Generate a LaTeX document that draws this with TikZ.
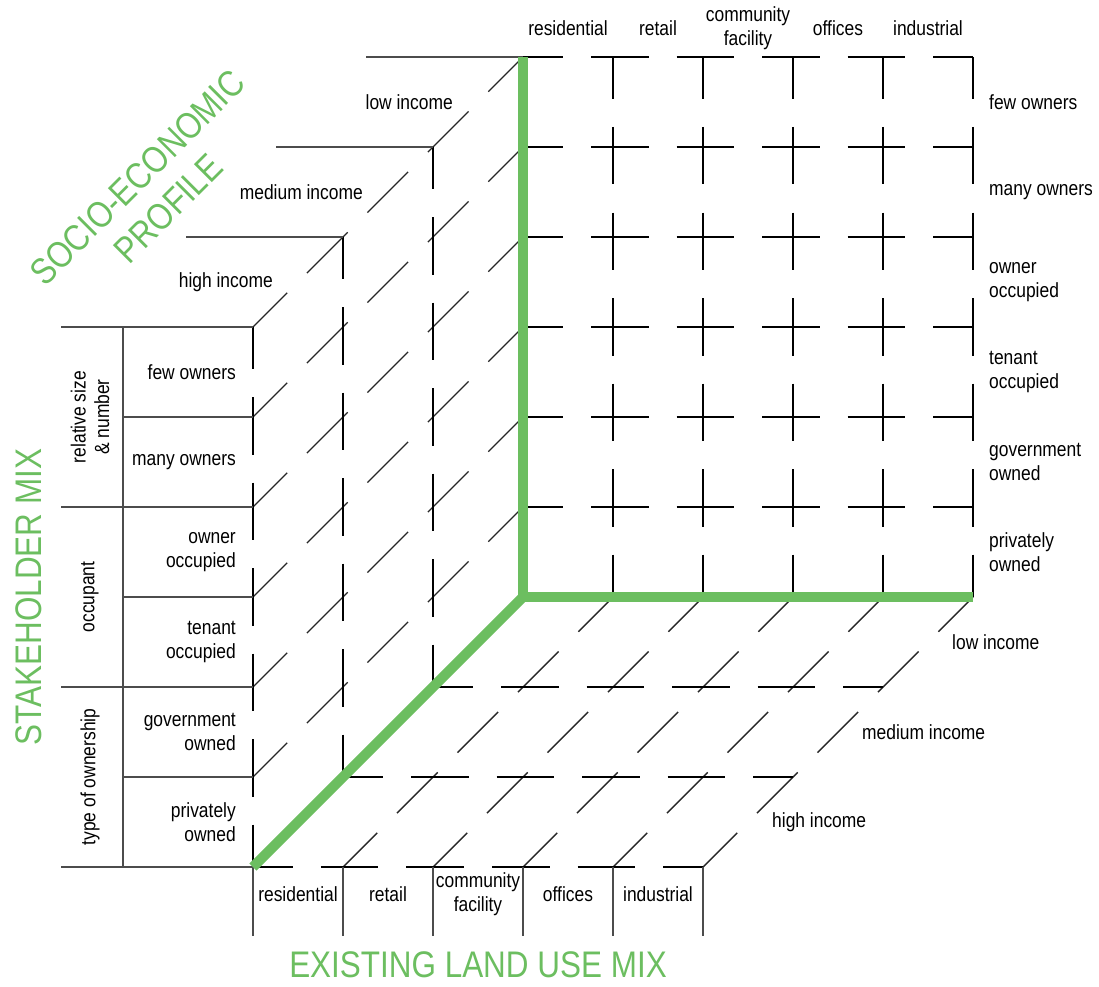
\documentclass[tikz,border=0pt]{standalone}
\usepackage{fontspec}
\setmainfont{Liberation Sans}[FakeStretch=0.85]
\usepackage{xcolor}
\usetikzlibrary{positioning,calc}
\definecolor{axisgreen}{RGB}{108,190,96}
\tikzset{
  gridline/.style={line width=1.4pt,black,dash pattern=on 57.5pt off 28pt},
  rowline/.style={gridline,dash phase=17.5pt},
  colline/.style={gridline,dash phase=15.5pt},
  depthline/.style={gridline,black!85,dash phase=8.5pt},
  tabrule/.style={line width=1.3pt,black!70},
  greenaxis/.style={line width=10pt,axisgreen},
  lbl/.style={font=\fontsize{20.5}{23.5}\selectfont,inner sep=0pt},
  heading/.style={font=\fontsize{37}{44}\selectfont,text=axisgreen,inner sep=0pt,align=center},
}
\begin{document}
\begin{tikzpicture}[x={(90pt,0pt)},y={(0pt,90pt)},z={(-90pt,-90pt)}]
\useasboundingbox (-523pt,-389pt) rectangle (576pt,597pt);
% 背面
\foreach \j in {1,...,6} \draw[rowline] (0,\j,0)--(5,\j,0);
\foreach \i in {1,...,5} \draw[colline] (\i,6,0)--(\i,0,0);
% 左面
\foreach \j in {1,...,6} \draw[depthline] (0,\j,0)--(0,\j,3);
\foreach \k in {1,2,3} \draw[colline] (0,6,\k)--(0,0,\k);
% 底面
\foreach \i in {1,...,5} \draw[depthline] (\i,0,0)--(\i,0,3);
\foreach \k in {1,2,3} \draw[rowline] (0,0,\k)--(5,0,\k);
% 表の罫線
\foreach \k in {0,1,2} \draw[tabrule] (0,6,\k)--++(-157pt,0pt);
\foreach \j in {0,2,4,6} \draw[tabrule] (0,\j,3)--++(-192pt,0pt);
\foreach \j in {1,3,5} \draw[tabrule] (0,\j,3)--++(-130pt,0pt);
\draw[tabrule] ([xshift=-130pt]0,6,3)--([xshift=-130pt]0,0,3);
\foreach \i in {0,...,5} \draw[tabrule] (\i,0,3)--++(0pt,-69pt);
% 軸
\draw[greenaxis,line join=miter] (0,6,0)--(0,0,0)--(5,0,0);
\draw[greenaxis] (0,0,0)--(0,0,3);
% 用途
\foreach \name/\txt [count=\i from 0] in {res/residential,ret/retail,com/{community\\facility},off/offices,ind/industrial}{
  \node[lbl,align=center,yshift=29pt] (top\name) at (\i+0.5,6,0) {\txt};
  \node[lbl,align=center,yshift=-27pt] (bot\name) at (\i+0.5,0,3) {\txt};
}
% 関係者
\foreach \name/\txt [count=\n from 0] in {few/few owners,many/many owners,occ/{owner\\occupied},ten/{tenant\\occupied},gov/{government\\owned},pri/{privately\\owned}}{
  \pgfmathsetmacro{\j}{5.5-\n}
  \node[lbl,align=left,anchor=west,xshift=16pt] (right\name) at (5,\j,0) {\txt};
  \node[lbl,align=right,anchor=east,xshift=-17pt] (tab\name) at (0,\j,3) {\txt};
}
\foreach \name/\txt [count=\n from 0] in {size/{relative size\\\& number},occupant/occupant,type/type of ownership}{
  \pgfmathsetmacro{\j}{5-2*\n}
  \node[lbl,align=center,rotate=90] (grp\name) at ([xshift=-163pt]0,\j,3) {\txt};
}
% 所得
\foreach \name/\txt [count=\k from 0] in {low/low income,med/medium income,high/high income}{
  \node[lbl,anchor=east,xshift=-25pt] (left\name) at (0,6,\k+0.5) {\txt};
  \node[lbl,anchor=west,xshift=24pt] (floor\name) at (5,0,\k+0.5) {\txt};
}
% 見出し
\node[heading,rotate=45] (socio) at (-370pt,404pt) {SOCIO-ECONOMIC\\PROFILE};
\node[heading,rotate=90] (stake) at (-494pt,0pt) {STAKEHOLDER MIX};
\node[heading] (land) at (-45pt,-368pt) {EXISTING LAND USE MIX};
\end{tikzpicture}
\end{document}
